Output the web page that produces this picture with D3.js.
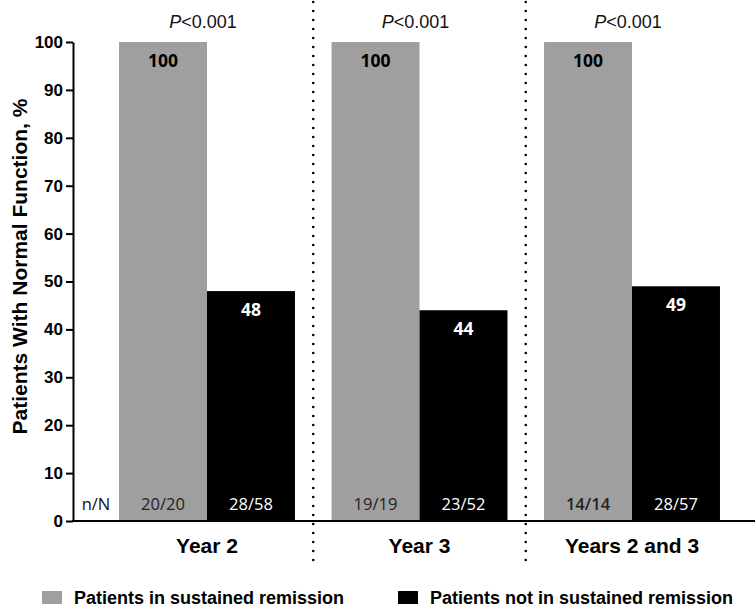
<!DOCTYPE html>
<html>
<head>
<meta charset="utf-8">
<script src="https://cdn.jsdelivr.net/npm/d3@7"></script>
<style>
  body { margin: 0; background: #fff; }
  svg { display: block; }
</style>
</head>
<body>
<div id="chart"></div>
<script>
// data
const groups = ["Year 2", "Year 3", "Years 2 and 3"];
const seriesNames = ["Patients in sustained remission", "Patients not in sustained remission"];
const remissionValues = [100, 100, 100];
const noRemissionValues = [48, 44, 49];
const remissionCounts = ["20/20", "19/19", "14/14"];
const noRemissionCounts = ["28/58", "23/52", "28/57"];
const pValues = ["<0.001", "<0.001", "<0.001"];
const yTicks = [0, 10, 20, 30, 40, 50, 60, 70, 80, 90, 100];

const width = 755, height = 610;
const arial = "'Liberation Sans', Arial, sans-serif";
const calibri = "'Open Sans', 'Noto Sans', sans-serif";
const colors = ["#9f9f9f", "#000000"];

const svg = d3.select("#chart").append("svg")
    .attr("width", width)
    .attr("height", height);

// scales
const x = d3.scaleBand()
    .domain(groups)
    .range([100.75, 738.25])
    .paddingInner(0.172)
    .paddingOuter(0.086);

const xSub = d3.scaleBand()
    .domain(seriesNames)
    .range([0, x.bandwidth()]);

const y = d3.scaleLinear()
    .domain([0, 100])
    .range([521, 42]);

const rows = groups.map((g, i) => ({
    group: g,
    bars: [
        {series: seriesNames[0], value: remissionValues[i], count: remissionCounts[i], idx: 0},
        {series: seriesNames[1], value: noRemissionValues[i], count: noRemissionCounts[i], idx: 1}
    ]
}));

// dotted separators between groups
const sepX = groups.slice(0, -1).map(g => x(g) + x.bandwidth() + x.step() * x.paddingInner() / 2);
svg.selectAll("line.sep")
    .data(sepX)
    .enter()
    .append("line")
    .attr("class", "sep")
    .attr("x1", d => d)
    .attr("x2", d => d)
    .attr("y1", 2)
    .attr("y2", 566)
    .attr("stroke", "#000")
    .attr("stroke-width", 2.6)
    .attr("stroke-linecap", "round")
    .attr("stroke-dasharray", "0,9");

// bars
const groupG = svg.selectAll("g.grp")
    .data(rows)
    .enter()
    .append("g")
    .attr("class", "grp")
    .attr("transform", d => "translate(" + x(d.group) + ",0)");

groupG.selectAll("rect")
    .data(d => d.bars)
    .enter()
    .append("rect")
    .attr("x", d => xSub(d.series))
    .attr("y", d => y(d.value))
    .attr("width", xSub.bandwidth())
    .attr("height", d => y(0) - y(d.value))
    .attr("fill", d => colors[d.idx]);

// value labels
groupG.selectAll("text.val")
    .data(d => d.bars)
    .enter()
    .append("text")
    .attr("class", "val")
    .attr("x", d => xSub(d.series) + xSub.bandwidth() / 2)
    .attr("y", d => y(d.value) + 25)
    .attr("text-anchor", "middle")
    .attr("font-family", calibri)
    .attr("font-weight", "bold")
    .attr("font-size", 17.5)
    .attr("fill", d => d.idx === 0 ? "#000" : "#fff")
    .text(d => d.value);

// n/N labels
groupG.selectAll("text.cnt")
    .data((d, i) => d.bars.map(b => Object.assign({gi: i}, b)))
    .enter()
    .append("text")
    .attr("class", "cnt")
    .attr("x", d => xSub(d.series) + xSub.bandwidth() / 2)
    .attr("y", 510)
    .attr("text-anchor", "middle")
    .attr("font-family", calibri)
    .attr("font-size", 16.5)
    .attr("font-weight", d => (d.gi === 2 && d.idx === 0) ? 600 : 400)
    .attr("fill", d => d.idx === 0 ? "#222" : "#fff")
    .text(d => d.count);

svg.append("text")
    .attr("x", 96)
    .attr("y", 510)
    .attr("text-anchor", "middle")
    .attr("font-family", calibri)
    .attr("font-size", 16.5)
    .attr("fill", "#111")
    .text("n/N");

// P values
const pText = svg.selectAll("text.p")
    .data(groups)
    .enter()
    .append("text")
    .attr("class", "p")
    .attr("x", d => x(d) + x.bandwidth() / 2 - 4)
    .attr("y", 28)
    .attr("text-anchor", "middle")
    .attr("font-family", arial)
    .attr("font-size", 18)
    .attr("fill", "#111");
pText.append("tspan").attr("font-style", "italic").text("P");
pText.append("tspan").text((d, i) => pValues[i]);

// y axis
const yAxis = svg.append("g")
    .attr("transform", "translate(73,0)")
    .call(d3.axisLeft(y).tickValues(yTicks).tickSize(7).tickPadding(3).tickSizeOuter(0));
yAxis.select(".domain").attr("stroke", "#000").attr("stroke-width", 2);
yAxis.selectAll(".tick line").attr("stroke", "#000").attr("stroke-width", 2);
yAxis.selectAll(".tick text")
    .attr("font-family", arial)
    .attr("font-weight", "bold")
    .attr("font-size", 17)
    .attr("fill", "#000");

// x axis line
const xAxis = svg.append("g")
    .attr("transform", "translate(0," + y(0) + ")")
    .call(d3.axisBottom(x).tickSize(0).tickPadding(20));
xAxis.select(".domain")
    .attr("d", "M72,0H755")
    .attr("stroke", "#000")
    .attr("stroke-width", 2);
xAxis.selectAll(".tick text")
    .attr("font-family", arial)
    .attr("font-weight", "bold")
    .attr("font-size", 21)
    .attr("fill", "#000")
    .attr("dy", 0)
    .attr("y", 32);

// y title
svg.append("text")
    .attr("transform", "translate(27,266.5) rotate(-90)")
    .attr("text-anchor", "middle")
    .attr("font-family", arial)
    .attr("font-weight", "bold")
    .attr("font-size", 21)
    .attr("fill", "#000")
    .text("Patients With Normal Function, %");

// legend
const legendX = [42, 398];
const legend = svg.selectAll("g.leg")
    .data(seriesNames)
    .enter()
    .append("g")
    .attr("class", "leg")
    .attr("transform", (d, i) => "translate(" + legendX[i] + ",591)");
legend.append("rect")
    .attr("width", 20)
    .attr("height", 13)
    .attr("fill", (d, i) => colors[i]);
legend.append("text")
    .attr("x", 32)
    .attr("y", 13)
    .attr("font-family", arial)
    .attr("font-weight", "bold")
    .attr("font-size", 18)
    .attr("fill", "#000")
    .text(d => d);
</script>
</body>
</html>
